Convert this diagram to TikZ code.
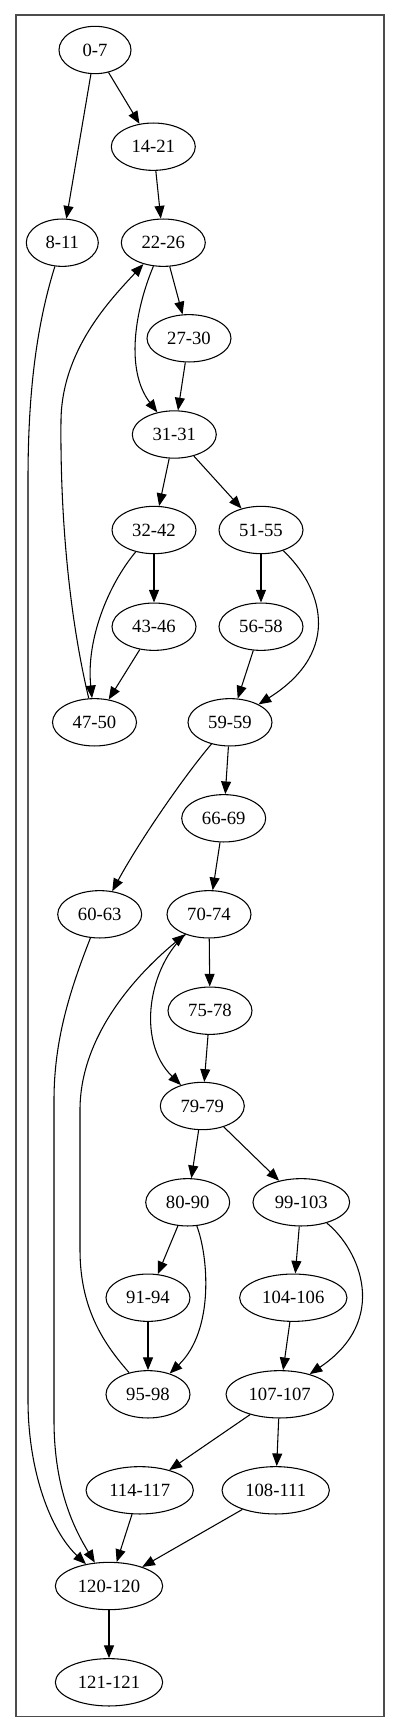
\documentclass[tikz,border=0pt]{standalone}
\usepackage{fontspec}
\setmainfont{Liberation Serif}
\usetikzlibrary{shapes.geometric,arrows.meta}
\begin{document}
\begin{tikzpicture}[x=0.75pt,y=-0.75pt,
  nd/.style={ellipse,draw,line width=0.8pt,inner sep=0pt,minimum height=35.5pt,font=\fontsize{14}{16}\selectfont},
  ws/.style={minimum width=54pt},
  wm/.style={minimum width=63pt},
  wl/.style={minimum width=72.5pt},
  wx/.style={minimum width=80.5pt},
  ed/.style={line width=0.8pt,-{Triangle[length=9.5pt,width=7.5pt]}},
  frame/.style={draw=black!70,line width=1pt}]
\useasboundingbox (0,0) rectangle (400,1733);
\draw[frame] (16,15) rectangle (384,1716.7);
\node[nd,ws] (n0) at (95,50) {0-7};
\node[nd,wm] (n14) at (153.3,146.7) {14-21};
\node[nd,ws] (n8) at (62.3,242.7) {8-11};
\node[nd,wm] (n22) at (163.3,242.7) {22-26};
\node[nd,wm] (n27) at (189,338.3) {27-30};
\node[nd,wm] (n31) at (174.3,434.5) {31-31};
\node[nd,wm] (n32) at (154,530) {32-42};
\node[nd,wm] (n51) at (261,530) {51-55};
\node[nd,wm] (n43) at (154,626.7) {43-46};
\node[nd,wm] (n56) at (261,626.7) {56-58};
\node[nd,wm] (n47) at (94.5,722.3) {47-50};
\node[nd,wm] (n59) at (230,722.3) {59-59};
\node[nd,wm] (n66) at (223.7,818.3) {66-69};
\node[nd,wm] (n60) at (99.7,914.3) {60-63};
\node[nd,wm] (n70) at (209,914.3) {70-74};
\node[nd,wm] (n75) at (210,1010.7) {75-78};
\node[nd,wm] (n79) at (202.3,1106) {79-79};
\node[nd,wm] (n80) at (187.7,1202.3) {80-90};
\node[nd,wl] (n99) at (301.3,1202.3) {99-103};
\node[nd,wm] (n91) at (148,1297.7) {91-94};
\node[nd,wx] (n104) at (293.3,1297.7) {104-106};
\node[nd,wm] (n95) at (148,1394.3) {95-98};
\node[nd,wx] (n107) at (279.7,1394.3) {107-107};
\node[nd,wx] (n114) at (139.7,1490.3) {114-117};
\node[nd,wx] (n108) at (275.7,1490.3) {108-111};
\node[nd,wx] (n120) at (109,1586) {120-120};
\node[nd,wx] (n121) at (109,1682.3) {121-121};
% edges
\draw[ed] (n0) -- (n8);
\draw[ed] (n0) -- (n14);
\draw[ed] (n14) -- (n22);
\draw[ed] (n22) -- (n27);
\draw[ed] (n22) .. controls (135,310) and (125,370) .. (n31);
\draw[ed] (n27) -- (n31);
\draw[ed] (n47) .. controls (70,620) and (60,520) .. (61,420) .. controls (62,350) and (110,300) .. (n22);
\draw[ed] (n8) .. controls (35,330) and (28,400) .. (28,480) -- (28,1400) .. controls (28,1470) and (50,1530) .. (n120);
\draw[ed] (n60) .. controls (70,990) and (54,1040) .. (54,1100) -- (54,1420) .. controls (54,1490) and (75,1530) .. (n120);
\draw[ed] (n31) -- (n32);
\draw[ed] (n31) -- (n51);
\draw[ed] (n32) -- (n43);
\draw[ed] (n32) .. controls (108,585) and (86,640) .. (n47);
\draw[ed] (n43) -- (n47);
\draw[ed] (n51) -- (n56);
\draw[ed] (n51) .. controls (320,585) and (345,650) .. (n59);
\draw[ed] (n56) -- (n59);
\draw[ed] (n59) -- (n66);
\draw[ed] (n59) .. controls (185,775) and (140,840) .. (n60);
\draw[ed] (n66) -- (n70);
\draw[ed] (n70) -- (n75);
\draw[ed] (n70) .. controls (150,965) and (135,1040) .. (n79);
\draw[ed] (n95) .. controls (105,1345) and (80,1310) .. (80,1250) -- (80,1110) .. controls (80,1040) and (130,980) .. (n70);
\draw[ed] (n75) -- (n79);
\draw[ed] (n79) -- (n80);
\draw[ed] (n79) -- (n99);
\draw[ed] (n80) -- (n91);
\draw[ed] (n80) .. controls (208,1255) and (215,1330) .. (n95);
\draw[ed] (n91) -- (n95);
\draw[ed] (n99) -- (n104);
\draw[ed] (n99) .. controls (360,1250) and (390,1320) .. (n107);
\draw[ed] (n104) -- (n107);
\draw[ed] (n107) -- (n114);
\draw[ed] (n107) -- (n108);
\draw[ed] (n114) -- (n120);
\draw[ed] (n108) -- (n120);
\draw[ed] (n120) -- (n121);
\end{tikzpicture}
\end{document}
